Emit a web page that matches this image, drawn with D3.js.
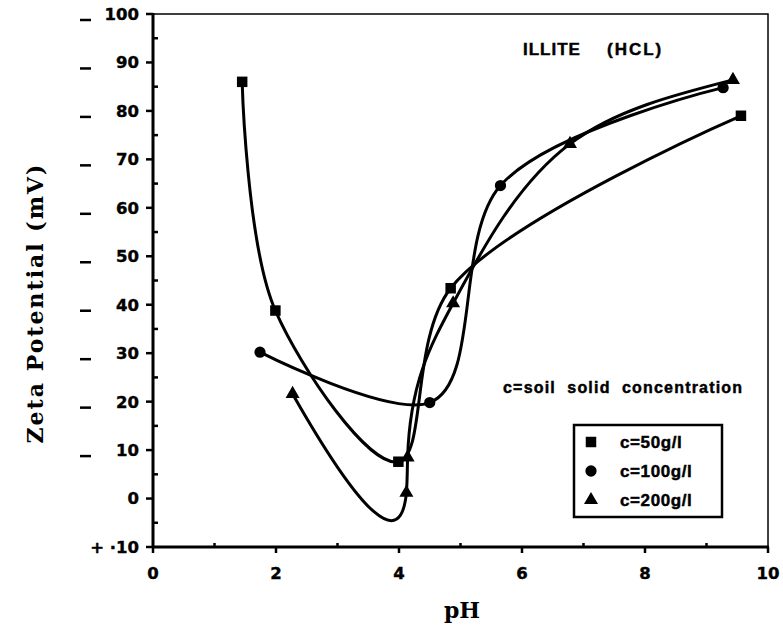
<!DOCTYPE html>
<html lang="en">
<head>
<meta charset="utf-8">
<title>Zeta potential of illite (HCl)</title>
<script src="https://d3js.org/d3.v7.min.js"></script>
<style>
    body { margin: 0; background: #fff; }
    svg { display: block; }
    .tick-label { font-family: "DejaVu Sans", sans-serif; font-weight: bold; font-size: 16.5px; fill: #000; stroke: #000; stroke-width: 0.4px; }
    .note { font-family: "Liberation Sans", Arial, sans-serif; font-weight: bold; fill: #000; stroke: #000; stroke-width: 0.45px; }
    .axis-title { font-family: "DejaVu Serif", serif; font-weight: bold; fill: #000; }
</style>
</head>
<body>
<div id="chart"></div>
<script>
// values
var phC50 = [1.45, 1.99, 3.99, 4.84, 9.56];
var zetaC50 = [86.0, 38.8, 7.6, 43.4, 79.0];
var phC100 = [1.74, 4.50, 5.65, 9.27];
var zetaC100 = [30.2, 19.8, 64.6, 84.8];
var phC200 = [2.27, 4.12, 4.14, 4.88, 6.78, 9.43];
var zetaC200 = [21.6, 1.2, 8.5, 40.3, 73.2, 86.4];

var seriesNames = ["c=50g/l", "c=100g/l", "c=200g/l"];
var xTicks = [0, 2, 4, 6, 8, 10];
var yTicks = [-10, 0, 10, 20, 30, 40, 50, 60, 70, 80, 90, 100];

var w = 783, h = 629;

// parametric cubic spline: parabolic run-out at the start, natural at the end,
// knots spaced by chord^alpha
function splineCoef(t, v) {
    var n = t.length, hs = [], s = [], M = [], cp = [], dp = [];
    for (var i = 0; i < n; i++) M[i] = 0;
    for (var i = 0; i < n - 1; i++) { hs[i] = t[i + 1] - t[i]; s[i] = (v[i + 1] - v[i]) / hs[i]; }
    for (var i = 1; i < n - 1; i++) {
        var a = i > 1 ? hs[i - 1] : 0,
            b = 2 * (hs[i - 1] + hs[i]) + (i === 1 ? hs[0] : 0),
            c = hs[i], d = 6 * (s[i] - s[i - 1]);
        if (i > 1) { var den = b - a * cp[i - 1]; cp[i] = c / den; dp[i] = (d - a * dp[i - 1]) / den; }
        else { cp[i] = c / b; dp[i] = d / b; }
    }
    for (var i = n - 2; i >= 1; i--) M[i] = dp[i] - cp[i] * M[i + 1];
    M[0] = M[1];
    return { h: hs, s: s, M: M };
}
function RunoutSpline(context, alpha) { this._context = context; this._alpha = alpha; }
RunoutSpline.prototype = {
    areaStart: function() {}, areaEnd: function() {},
    lineStart: function() { this._x = []; this._y = []; },
    point: function(x, y) { this._x.push(+x); this._y.push(+y); },
    lineEnd: function() {
        var X = this._x, Y = this._y, n = X.length, ctx = this._context;
        if (!n) return;
        ctx.moveTo(X[0], Y[0]);
        if (n < 3) { if (n === 2) ctx.lineTo(X[1], Y[1]); return; }
        var t = [0];
        for (var i = 1; i < n; i++) t[i] = t[i - 1] + Math.pow(Math.hypot(X[i] - X[i - 1], Y[i] - Y[i - 1]), this._alpha);
        var cx = splineCoef(t, X), cy = splineCoef(t, Y);
        for (var i = 0; i < n - 1; i++) {
            var hh = cx.h[i];
            var dx0 = cx.s[i] - hh * (2 * cx.M[i] + cx.M[i + 1]) / 6,
                dy0 = cy.s[i] - hh * (2 * cy.M[i] + cy.M[i + 1]) / 6,
                dx1 = cx.s[i] + hh * (cx.M[i] + 2 * cx.M[i + 1]) / 6,
                dy1 = cy.s[i] + hh * (cy.M[i] + 2 * cy.M[i + 1]) / 6;
            ctx.bezierCurveTo(X[i] + dx0 * hh / 3, Y[i] + dy0 * hh / 3,
                              X[i + 1] - dx1 * hh / 3, Y[i + 1] - dy1 * hh / 3,
                              X[i + 1], Y[i + 1]);
        }
    }
};
function curveRunout(alpha) {
    return function(context) { return new RunoutSpline(context, alpha); };
}

var svg = d3.select("#chart").append("svg")
    .attr("width", w)
    .attr("height", h);

var x = d3.scaleLinear().domain([0, 10]).range([153, 768]);
var y = d3.scaleLinear().domain([-10, 100]).range([547, 14]);

// frame
svg.append("rect")
    .attr("x", x(0)).attr("y", y(100))
    .attr("width", x(10) - x(0)).attr("height", y(-10) - y(100))
    .attr("fill", "none").attr("stroke", "#000").attr("stroke-width", 1.5);

svg.append("line").attr("x1", x(0)).attr("x2", x(0)).attr("y1", y(100) - 1).attr("y2", y(-10) + 1)
    .attr("stroke", "#000").attr("stroke-width", 3);
svg.append("line").attr("x1", x(0) - 1).attr("x2", x(10) + 1).attr("y1", y(-10)).attr("y2", y(-10))
    .attr("stroke", "#000").attr("stroke-width", 3);

// y ticks
var yMinor = d3.range(-5, 100, 10);
svg.selectAll(".ymaj").data(yTicks).enter().append("line")
    .attr("x1", x(0) - 7).attr("x2", x(0))
    .attr("y1", function(d) { return y(d); }).attr("y2", function(d) { return y(d); })
    .attr("stroke", "#000").attr("stroke-width", 2.5);
svg.selectAll(".ymin").data(yMinor).enter().append("line")
    .attr("x1", x(0)).attr("x2", x(0) + 5)
    .attr("y1", function(d) { return y(d); }).attr("y2", function(d) { return y(d); })
    .attr("stroke", "#000").attr("stroke-width", 2.5);

svg.selectAll(".ylab").data(yTicks).enter().append("text")
    .attr("class", "tick-label")
    .attr("x", 139)
    .attr("y", function(d) { return y(d); })
    .attr("dy", "0.36em")
    .attr("text-anchor", "end")
    .text(function(d) { return d < 0 ? "+ \u00b7" + Math.abs(d) : d; });

// the stray dashes printed left of the labels
svg.selectAll(".dash").data(yTicks.filter(function(d) { return d > 0; })).enter().append("line")
    .attr("x1", 80).attr("x2", 91)
    .attr("y1", function(d) { return y(d) + 6; }).attr("y2", function(d) { return y(d) + 6; })
    .attr("stroke", "#000").attr("stroke-width", 2.5);

// x ticks
svg.selectAll(".xmaj").data(xTicks).enter().append("line")
    .attr("x1", function(d) { return x(d); }).attr("x2", function(d) { return x(d); })
    .attr("y1", y(-10)).attr("y2", y(-10) + 6)
    .attr("stroke", "#000").attr("stroke-width", 2.5);
svg.selectAll(".xmin").data(d3.range(1, 10, 2)).enter().append("line")
    .attr("x1", function(d) { return x(d); }).attr("x2", function(d) { return x(d); })
    .attr("y1", y(-10) - 4).attr("y2", y(-10))
    .attr("stroke", "#000").attr("stroke-width", 2.5);

svg.selectAll(".xlab").data(xTicks).enter().append("text")
    .attr("class", "tick-label")
    .attr("x", function(d) { return x(d); })
    .attr("y", 573)
    .attr("dy", "0.36em")
    .attr("text-anchor", "middle")
    .text(function(d) { return d; });

// axis titles
svg.append("text").attr("class", "axis-title")
    .attr("x", 462).attr("y", 618)
    .attr("text-anchor", "middle")
    .style("font-size", "22px")
    .text("pH");

svg.append("text").attr("class", "axis-title")
    .attr("transform", "translate(43,303) rotate(-90)")
    .attr("text-anchor", "middle")
    .style("font-size", "22px").style("letter-spacing", "2px")
    .text("Zeta Potential (mV)");

// notes
svg.append("text").attr("class", "note")
    .attr("x", 523).attr("y", 55)
    .style("font-size", "17px").style("letter-spacing", "1px")
    .text("ILLITE");
svg.append("text").attr("class", "note")
    .attr("x", 607).attr("y", 55)
    .style("font-size", "17px").style("letter-spacing", "2px")
    .text("(HCL)");

svg.append("text").attr("class", "note")
    .attr("x", 503).attr("y", 393)
    .style("font-size", "16px").style("letter-spacing", "1.2px")
    .attr("xml:space", "preserve")
    .text("c=soil  solid  concentration");

// curves
var series = [
    { ph: phC50, zeta: zetaC50, shape: d3.symbolSquare, size: 110, curve: d3.curveCatmullRom.alpha(0.5) },
    { ph: phC100, zeta: zetaC100, shape: d3.symbolCircle, size: 100, curve: d3.curveCatmullRom.alpha(1) },
    { ph: phC200, zeta: zetaC200, shape: d3.symbolTriangle, size: 85, curve: curveRunout(1.2) }
];

series.forEach(function(s) {
    var pts = s.ph.map(function(p, i) { return [p, s.zeta[i]]; });
    var line = d3.line()
        .x(function(d) { return x(d[0]); })
        .y(function(d) { return y(d[1]); })
        .curve(s.curve);
    svg.append("path")
        .attr("d", line(pts))
        .attr("fill", "none")
        .attr("stroke", "#000")
        .attr("stroke-width", 3)
        .attr("stroke-linejoin", "round");
    svg.selectAll(null).data(pts).enter().append("path")
        .attr("transform", function(d) { return "translate(" + x(d[0]) + "," + y(d[1]) + ")"; })
        .attr("d", d3.symbol().type(s.shape).size(s.size))
        .attr("fill", "#000");
});

// legend
var lg = svg.append("g");
lg.append("rect")
    .attr("x", 574).attr("y", 425)
    .attr("width", 148).attr("height", 92)
    .attr("fill", "#fff").attr("stroke", "#000").attr("stroke-width", 2.5);

var rows = lg.selectAll(".row").data(series).enter().append("g")
    .attr("transform", function(d, i) { return "translate(591," + (442 + i * 29) + ")"; });
rows.append("path")
    .attr("d", function(d) { return d3.symbol().type(d.shape).size(d.size)(); })
    .attr("fill", "#000");
rows.append("text")
    .attr("class", "note")
    .attr("x", 29).attr("dy", "0.36em")
    .style("font-size", "17px").style("letter-spacing", "0.6px")
    .text(function(d, i) { return seriesNames[i]; });
</script>
</body>
</html>
